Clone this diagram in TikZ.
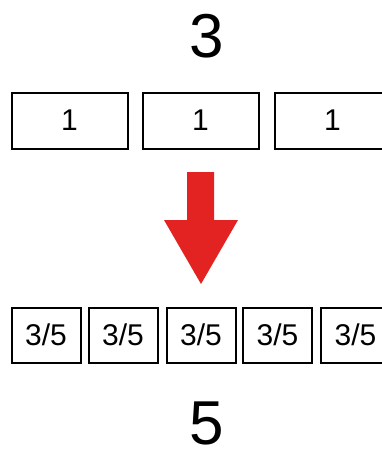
\documentclass[tikz,border=0pt]{standalone}
\usepackage{fontspec}
\setmainfont{Liberation Sans}
\definecolor{arrowred}{HTML}{E32322}
\begin{document}
\begin{tikzpicture}[x=1pt,y=-1pt,
  bigbox/.style={draw=black,line width=2pt,minimum width=116pt,minimum height=56pt,inner sep=0pt,font=\fontsize{30}{30}\selectfont},
  smallbox/.style={draw=black,line width=2pt,minimum width=69pt,minimum height=55pt,inner sep=0pt,font=\fontsize{30}{30}\selectfont},
  bignum/.style={font=\fontsize{62}{62}\selectfont,inner sep=0pt}]
\useasboundingbox (0,0) rectangle (382,450);
\clip (0,0) rectangle (382,450);
\node[bignum] (three) at (207,36) {3};
\node[bigbox] (t1) at (69.5,120.5) {1};
\node[bigbox] (t2) at (200.5,120.5) {1};
\node[bigbox] (t3) at (332.5,120.5) {1};
\fill[arrowred] (187,172) -- (214,172) -- (214,220) -- (238,220) -- (201,284) -- (164,220) -- (187,220) -- cycle;
\node[smallbox] (b1) at (46,335) {3/5};
\node[smallbox] (b2) at (123,335) {3/5};
\node[smallbox] (b3) at (201,335) {3/5};
\node[smallbox] (b4) at (277.5,335) {3/5};
\node[smallbox] (b5) at (355.5,335) {3/5};
\node[bignum] (five) at (207,423) {5};
\end{tikzpicture}
\end{document}
